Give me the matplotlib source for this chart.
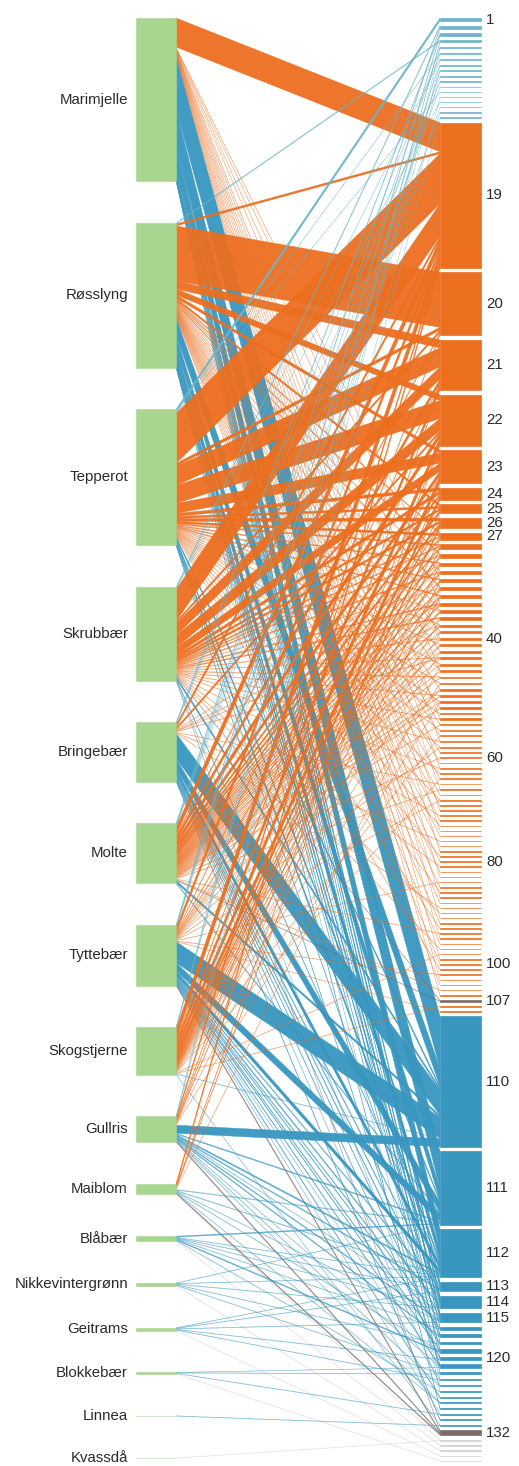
import numpy as np
import matplotlib as mpl
mpl.use('Agg')
import matplotlib.pyplot as plt

plt.rcParams['font.family'] = ['Liberation Sans', 'DejaVu Sans']

# plants (left column) in drawing order
plants = ['Marimjelle', 'Røsslyng', 'Tepperot', 'Skrubbær', 'Bringebær', 'Molte',
          'Tyttebær', 'Skogstjerne', 'Gullris', 'Maiblom', 'Blåbær',
          'Nikkevintergrønn', 'Geitrams', 'Blokkebær', 'Linnea', 'Kvassdå']

# links per plant: group number -> amount
marimjelle = {19: 29, 32: 0.5, 35: 0.5, 40: 0.4, 45: 0.4, 53: 0.6, 57: 0.6, 62: 0.5, 66: 0.5,
              70: 0.5, 74: 0.5, 78: 0.5, 83: 0.6, 87: 0.6, 91: 0.6, 95: 0.6, 99: 0.6, 103: 0.6,
              106: 0.6, 110: 52, 111: 37, 112: 21, 113: 3, 114: 4, 115: 3, 116: 1, 118: 1,
              120: 1, 122: 1, 125: 0.5}
rosslyng = {4: 1, 19: 2, 20: 55, 21: 8, 22: 6, 23: 3, 25: 2, 27: 1, 29: 1, 31: 0.8, 33: 1,
            36: 0.5, 39: 0.5, 42: 0.6, 45: 0.6, 48: 0.6, 51: 0.6, 54: 0.6, 56: 0.6, 59: 0.6,
            61: 0.5, 64: 0.5, 67: 0.5, 69: 0.5, 72: 0.5, 75: 0.5, 77: 0.5, 80: 0.5, 82: 0.6,
            85: 0.6, 88: 0.6, 92: 0.6, 96: 0.6, 100: 0.6, 104: 0.6, 110: 18, 111: 12, 112: 10,
            113: 2, 114: 3, 115: 2, 117: 1, 119: 1, 123: 0.5, 128: 1}
tepperot = {1: 3, 6: 0.6, 13: 0.5, 19: 50, 20: 3, 21: 19, 22: 18, 23: 10, 24: 3, 25: 2, 26: 3,
            27: 2, 28: 1.5, 30: 1, 32: 1, 34: 1, 36: 0.5, 38: 0.5, 41: 0.6, 44: 0.6, 47: 0.8,
            50: 0.5, 52: 0.5, 55: 0.5, 58: 0.5, 63: 0.5, 68: 0.5, 73: 0.5, 79: 0.5, 86: 0.5,
            93: 0.5, 101: 0.5, 110: 2, 111: 2, 112: 3, 114: 1, 121: 1}
skrubbaer = {2: 1.5, 7: 0.6, 15: 0.3, 19: 32, 20: 2, 21: 12, 22: 12, 23: 8, 24: 3, 25: 2, 26: 2,
             27: 1.5, 28: 1, 29: 1, 31: 1, 33: 0.5, 35: 1, 37: 1, 40: 0.8, 43: 0.6, 46: 0.8,
             49: 0.7, 53: 0.6, 57: 0.5, 62: 0.4, 71: 0.4, 81: 0.4, 90: 0.4, 97: 0.4, 107: 0.8,
             110: 2, 112: 1, 121: 0.5, 132: 0.8}
bringebaer = {3: 1.2, 6: 0.6, 11: 0.8, 19: 3, 22: 2, 30: 0.5, 35: 0.5, 38: 0.5, 43: 0.6, 65: 0.4,
              76: 0.4, 89: 0.4, 110: 25, 111: 10, 112: 5, 113: 1.5, 114: 1.5, 115: 1.5, 117: 1,
              120: 1, 124: 0.8, 130: 1}
molte = {2: 1.5, 5: 0.8, 8: 0.5, 12: 0.5, 17: 0.8, 19: 8, 20: 1.5, 21: 4, 22: 5, 23: 4, 24: 2,
         25: 2, 26: 2, 27: 1.5, 28: 1.5, 29: 1.5, 30: 1, 31: 1, 32: 1, 33: 1, 34: 1, 35: 1, 36: 1,
         37: 0.8, 38: 1, 39: 0.8, 40: 0.8, 41: 0.6, 42: 0.6, 43: 0.6, 44: 0.6, 45: 0.8, 46: 0.8,
         48: 0.5, 49: 0.8, 50: 0.5, 51: 0.6, 54: 0.6, 60: 0.6, 66: 0.4, 94: 0.4, 105: 0.4,
         107: 0.7, 110: 2, 111: 1}
tyttebaer = {3: 1.3, 7: 0.6, 9: 1, 16: 0.3, 19: 5, 21: 1, 23: 1, 26: 1, 29: 0.5, 31: 0.7, 33: 0.5,
             36: 0.5, 41: 0.6, 48: 0.5, 58: 0.5, 68: 0.4, 84: 0.4, 102: 0.4, 109: 0.3, 110: 21,
             111: 8, 112: 4, 113: 1, 114: 1.5, 115: 1, 116: 1, 118: 1, 119: 1, 121: 1, 123: 0.5,
             126: 1, 129: 0.5, 132: 1.5}
skogstjerne = {4: 1, 8: 0.5, 10: 0.8, 19: 10, 20: 1.5, 21: 5, 22: 6, 23: 6, 24: 3, 25: 1, 26: 2,
               27: 1, 28: 1, 30: 1, 32: 1, 34: 1, 37: 0.7, 39: 0.7, 42: 0.6, 47: 0.8, 56: 0.5,
               64: 0.4, 98: 0.4, 108: 0.4, 110: 0.5, 131: 0.5}
gullris = {5: 0.7, 14: 0.3, 18: 0.8, 19: 3, 21: 1, 22: 1, 24: 1, 33: 0.5, 50: 0.5, 110: 8, 111: 1,
           112: 1.5, 113: 1, 114: 0.5, 115: 1, 117: 1, 121: 0.5, 124: 0.7, 127: 0.5, 132: 1.2}
maiblom = {19: 3, 22: 1, 23: 1, 44: 0.6, 111: 0.8, 112: 0.8, 115: 0.5, 119: 0.6, 127: 0.5,
           132: 1.2, 133: 0.6}
blaabaer = {111: 1, 112: 0.5, 113: 0.5, 114: 0.5, 116: 0.5, 119: 1, 125: 0.5, 134: 0.5}
nikkevintergronn = {111: 0.5, 112: 0.5, 114: 0.5, 118: 0.5, 122: 0.5, 135: 0.5}
geitrams = {112: 0.5, 113: 0.5, 115: 0.5, 120: 0.5, 123: 0.5, 136: 0.4}
blokkebaer = {121: 0.3, 122: 0.5, 129: 0.5, 137: 0.4}
linnea = {131: 0.5}
kvassda = {133: 0.3}

links = [marimjelle, rosslyng, tepperot, skrubbaer, bringebaer, molte, tyttebaer, skogstjerne,
         gullris, maiblom, blaabaer, nikkevintergronn, geitrams, blokkebaer, linnea, kvassda]

groups = list(range(1, 138))
group_ticks = [1, 19, 20, 21, 22, 23, 24, 25, 26, 27, 40, 60, 80, 100, 107,
               110, 111, 112, 113, 114, 115, 120, 132]


def group_colour(g):
    if g <= 18:
        return '#6db5c8'
    if g in (107, 132):
        return '#7a6d68'
    if g >= 133:
        return '#d3cfcb'
    if g >= 110:
        return '#3896bf'
    return '#ec6f20'


# node sizes
left_tot = np.array([sum(d.values()) for d in links])
right_tot = np.zeros(len(groups))
for d in links:
    for g, v in d.items():
        right_tot[g - 1] += v

top = 18
gap_l = (1458 - top - left_tot[:-1].sum()) / (len(plants) - 1)
gap_r = (1461 - top - right_tot.sum()) / (len(groups) - 1)
left_y0 = top + np.concatenate([[0], np.cumsum(left_tot + gap_l)[:-1]])
right_y0 = top + np.concatenate([[0], np.cumsum(right_tot + gap_r)[:-1]])

xl0, xl1 = 136, 176
xr0, xr1 = 440, 481

fig = plt.figure(figsize=(5.19, 14.66), dpi=100)
ax = fig.add_axes([0, 0, 1, 1])
ax.set_xlim(0, 519)
ax.set_ylim(1466, 0)
ax.axis('off')

# bands: stacked on the left by group, on the right by plant
right_cur = right_y0.copy()
for i, d in enumerate(links):
    yl = left_y0[i]
    for g in sorted(d):
        v = d[g]
        yr = right_cur[g - 1]
        c = group_colour(g)
        if v >= 2:
            a, lw = 0.95, 0.3
        elif v >= 1:
            a, lw = 0.75, 0.25
        else:
            a, lw = 0.55, 0.2
        ax.fill([xl1, xr0, xr0, xl1], [yl, yr, yr + v, yl + v],
                color=c, alpha=a, lw=lw, ec=c, zorder=2)
        yl += v
        right_cur[g - 1] += v

# plant bars
ax.barh(left_y0 + left_tot / 2, xl1 - xl0, left=xl0, height=left_tot,
        color='#a8d690', edgecolor='#a8d690', lw=0.4, zorder=3)
for i, p in enumerate(plants):
    ax.text(128, left_y0[i] + left_tot[i] / 2, p, ha='right', va='center',
            fontsize=10.8, color='#2b2b2b')

# group bars
gcols = [group_colour(g) for g in groups]
ax.barh(right_y0 + right_tot / 2, xr1 - xr0, left=xr0, height=right_tot,
        color=gcols, edgecolor=gcols, lw=0.5, zorder=3)
for g in group_ticks:
    ax.text(486, right_y0[g - 1] + right_tot[g - 1] / 2, str(g), ha='left', va='center',
            fontsize=10.8, color='#2b2b2b')

fig.savefig('out.png', dpi=100, facecolor='white')
